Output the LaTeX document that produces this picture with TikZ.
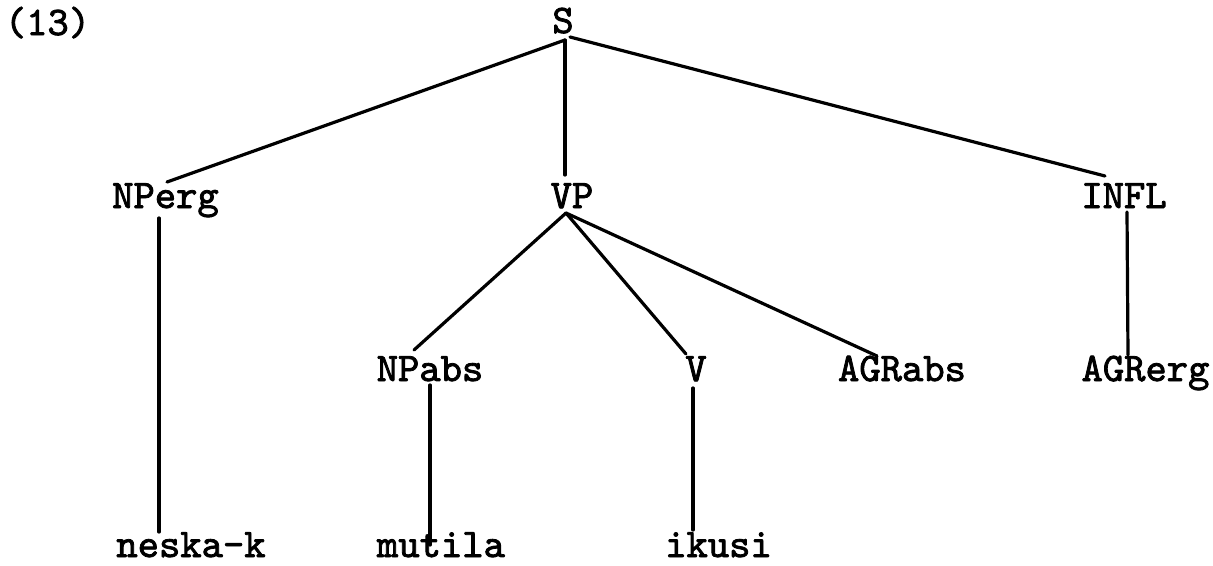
\documentclass[tikz,border=0pt]{standalone}
\usepackage{fontspec}
\newfontfamily\twfont{lmmono10-regular}[Extension=.otf, FakeBold=2]
\begin{document}
\begin{tikzpicture}[x=1pt,y=-1pt,
  lbl/.style={font=\twfont\fontsize{40.6}{44}\selectfont, inner sep=0pt, anchor=base},
  edge/.style={line width=3.2pt, line cap=round}]
\useasboundingbox (0,0) rectangle (1213,565);
% labels
\node[lbl] (ex) at (47.5,35) {(13)};
\node[lbl] (S) at (563,33) {S};
\node[lbl] (NPerg) at (165.5,208) {NPerg};
\node[lbl] (VP) at (572,208) {VP};
\node[lbl] (INFL) at (1124,208) {INFL};
\node[lbl] (NPabs) at (430,381) {NPabs};
\node[lbl] (V) at (696,381) {V};
\node[lbl] (AGRabs) at (902,381) {AGRabs};
\node[lbl] (AGRerg) at (1145.5,381) {AGRerg};
\node[lbl] (neskak) at (191,557) {neska-k};
\node[lbl] (mutila) at (441,557) {mutila};
\node[lbl] (ikusi) at (718.5,557) {ikusi};
% connector ends
\coordinate (S-b) at (565,40);
\coordinate (S-r) at (570,37);
\coordinate (NPerg-t) at (167,182);
\coordinate (NPerg-b) at (159,218);
\coordinate (VP-t) at (565,175);
\coordinate (VP-b) at (566,213);
\coordinate (INFL-t) at (1105,176);
\coordinate (INFL-b) at (1127,212);
\coordinate (NPabs-t) at (414,350);
\coordinate (NPabs-b) at (430,385);
\coordinate (V-t) at (686,354);
\coordinate (V-b) at (693,388);
\coordinate (AGRabs-t) at (877,356);
\coordinate (AGRerg-t) at (1128,355);
\coordinate (neskak-t) at (159,532);
\coordinate (mutila-t) at (430,545);
\coordinate (ikusi-t) at (693,530);
% connectors
\draw[edge] (S-b) -- (NPerg-t);
\draw[edge] (S-b) -- (VP-t);
\draw[edge] (S-r) -- (INFL-t);
\draw[edge] (NPerg-b) -- (neskak-t);
\draw[edge] (VP-b) -- (NPabs-t);
\draw[edge] (VP-b) -- (V-t);
\draw[edge] (VP-b) -- (AGRabs-t);
\draw[edge] (INFL-b) -- (AGRerg-t);
\draw[edge] (NPabs-b) -- (mutila-t);
\draw[edge] (V-b) -- (ikusi-t);
\end{tikzpicture}
\end{document}
